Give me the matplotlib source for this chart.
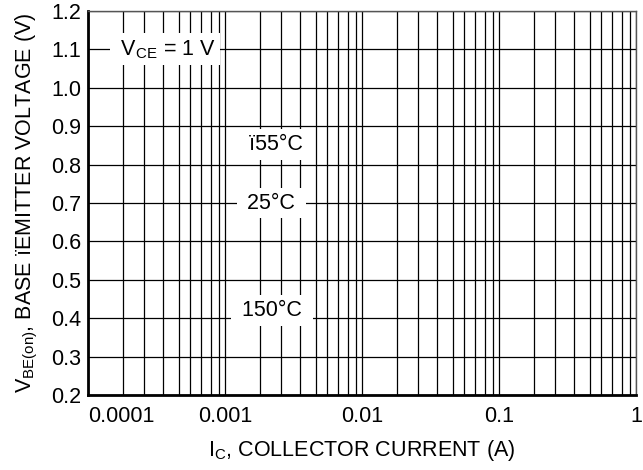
import matplotlib
matplotlib.use("Agg")
import matplotlib.pyplot as plt
import numpy as np

# ---- data / labels ----
x_decades = [1e-4, 1e-3, 1e-2, 1e-1, 1.0]
x_ticklabels = ['0.0001', '0.001', '0.01', '0.1', '1']
y_ticks = [0.2, 0.3, 0.4, 0.5, 0.6, 0.7, 0.8, 0.9, 1.0, 1.1, 1.2]
y_ticklabels = ['0.2', '0.3', '0.4', '0.5', '0.6', '0.7', '0.8', '0.9', '1.0', '1.1', '1.2']
annot_texts = [r'V$_{\mathregular{CE}}$ = 1 V', 'ï55°C', '25°C', '150°C']
annot_x = [3.65e-4, 2.36e-3, 2.18e-3, 2.2e-3]
annot_y = [1.1, 0.852, 0.70, 0.42]
xlabel = r'I$_{\mathregular{C}}$, COLLECTOR CURRENT (A)'
ylabel = r'V$_{\mathregular{BE(on)}}$, BASE ïEMITTER VOLTAGE (V)'

# grid line positions inside each decade (fraction of a decade, as drawn)
grid_fracs = [0.255, 0.409, 0.547, 0.664, 0.745, 0.825, 0.898, 0.956]

plt.rcParams['font.family'] = ['Liberation Sans', 'DejaVu Sans']
plt.rcParams['mathtext.fontset'] = 'custom'
plt.rcParams['mathtext.rm'] = 'Liberation Sans'

FS = 15.5
fig = plt.figure(figsize=(6.43, 4.70), dpi=100)
ax = fig.add_axes([88/643, 1-395/470, (636-88)/643, (395-11)/470])

ax.set_xscale('log')
ax.set_xlim(x_decades[0], x_decades[-1])
ax.set_ylim(y_ticks[0], y_ticks[-1])

ax.set_xticks(x_decades)
ax.set_xticklabels(x_ticklabels)
minor = [d * 10**f for d in x_decades[:-1] for f in grid_fracs]
ax.set_xticks(minor, minor=True)
ax.set_xticklabels([], minor=True)
ax.set_yticks(y_ticks)
ax.set_yticklabels(y_ticklabels)

ax.grid(True, which='both', axis='x', color='black', linewidth=0.9)
ax.grid(True, which='major', axis='y', color='black', linewidth=0.9)

ax.tick_params(axis='both', which='both', length=0, labelsize=FS)
ax.tick_params(axis='y', pad=5)
ax.tick_params(axis='x', pad=8)
lbls = ax.get_xticklabels()
lbls[0].set_horizontalalignment('left')

for side in ['left', 'bottom']:
    ax.spines[side].set_linewidth(2.0)
    ax.spines[side].set_color('black')
for side in ['top', 'right']:
    ax.spines[side].set_linewidth(1.0)
    ax.spines[side].set_color('#555555')

for t, x, y in zip(annot_texts, annot_x, annot_y):
    ax.text(x, y, ' ' + t + ' ', ha='center', va='center', fontsize=FS, zorder=5,
            bbox=dict(boxstyle='square,pad=0.22', facecolor='white', edgecolor='none'))

ax.set_xlabel(xlabel, fontsize=FS, labelpad=8)
ax.set_ylabel(ylabel, fontsize=FS, labelpad=8)

fig.savefig('out.png', dpi=100)
